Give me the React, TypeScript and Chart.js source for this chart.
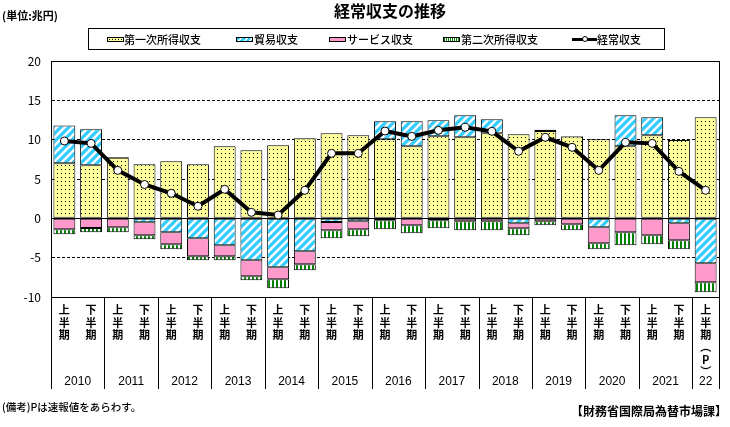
import React, { useEffect, useRef } from "react";
import { Chart, registerables } from "chart.js";

Chart.register(...registerables);

const FONT = '"Noto Sans CJK JP", "Noto Sans", sans-serif';

// ---- data (兆円) ----
const periods = [
  "2010上", "2010下", "2011上", "2011下", "2012上", "2012下", "2013上", "2013下",
  "2014上", "2014下", "2015上", "2015下", "2016上", "2016下", "2017上", "2017下",
  "2018上", "2018下", "2019上", "2019下", "2020上", "2020下", "2021上", "2021下", "2022上P",
];
const years = ["2010", "2011", "2012", "2013", "2014", "2015", "2016", "2017", "2018", "2019", "2020", "2021", "22"];
const firstHalfLabel = ["上", "半", "期"];
const secondHalfLabel = ["下", "半", "期"];
const preliminaryLabel = ["上", "半", "期", "︵", "P", "︶"];

const primaryIncome = [7.0, 6.74, 7.7, 6.86, 7.25, 6.86, 9.15, 8.64, 9.28, 10.17, 10.8, 10.55, 10.04, 9.15, 10.42, 10.3, 10.8, 10.68, 11.1, 10.4, 10.04, 9.15, 10.55, 9.96, 12.84];
const tradeBalance = [4.8, 4.57, 0.1, -0.5, -1.78, -2.54, -3.43, -5.34, -6.23, -4.19, -0.47, -0.38, 2.29, 3.18, 2.04, 2.79, 1.78, -0.64, 0.15, 0.07, -1.14, 3.94, 2.29, -0.64, -5.72];
const servicesBalance = [-1.4, -1.23, -1.14, -1.66, -1.52, -2.29, -1.4, -2.03, -1.52, -1.66, -1.06, -1.02, -0.25, -0.89, -0.25, -0.38, -0.38, -0.63, -0.38, -0.76, -2.04, -1.78, -2.16, -2.16, -2.42];
const secondaryIncome = [-0.63, -0.55, -0.64, -0.5, -0.64, -0.51, -0.51, -0.51, -1.15, -0.76, -1.01, -0.89, -1.15, -1.02, -1.02, -1.15, -1.15, -0.89, -0.51, -0.77, -0.76, -1.65, -1.14, -1.14, -1.27];
const currentAccount = [9.83, 9.53, 6.1, 4.3, 3.18, 1.53, 3.69, 0.76, 0.42, 3.56, 8.26, 8.26, 11.1, 10.42, 11.19, 11.57, 11.06, 8.52, 10.3, 9.03, 6.1, 9.66, 9.53, 5.97, 3.56];

const yTicks = [-10, -5, 0, 5, 10, 15, 20];

const tickLabels = periods.map((p) =>
  p.endsWith("P") ? preliminaryLabel : p.endsWith("上") ? firstHalfLabel : secondHalfLabel
);

function makePattern(w: number, h: number, draw: (c: CanvasRenderingContext2D) => void) {
  const cv = document.createElement("canvas");
  cv.width = w;
  cv.height = h;
  const c = cv.getContext("2d")!;
  draw(c);
  return c.createPattern(cv, "repeat")!;
}

export default function App() {
  const ref = useRef<HTMLCanvasElement | null>(null);

  useEffect(() => {
    const yellow = makePattern(4, 4, (c) => {
      c.fillStyle = "#ffff99";
      c.fillRect(0, 0, 4, 4);
      c.fillStyle = "#000";
      c.fillRect(1, 1, 1, 1);
    });
    const blue = makePattern(8, 8, (c) => {
      c.fillStyle = "#33ccff";
      c.fillRect(0, 0, 8, 8);
      c.strokeStyle = "#fff";
      c.lineWidth = 2.4;
      c.beginPath();
      c.moveTo(-2, 10); c.lineTo(10, -2);
      c.moveTo(-3, 3); c.lineTo(3, -3);
      c.moveTo(5, 11); c.lineTo(11, 5);
      c.stroke();
    });
    const green = makePattern(4, 4, (c) => {
      c.fillStyle = "#fff";
      c.fillRect(0, 0, 4, 4);
      c.fillStyle = "#008000";
      c.fillRect(0, 0, 2, 4);
    });

    const framePlugin = {
      id: "frameAndYears",
      beforeDatasetsDraw(chart: any) {
        const { ctx, chartArea, scales } = chart;
        const y0 = scales.y.getPixelForValue(0);
        ctx.save();
        ctx.strokeStyle = "#000";
        ctx.lineWidth = 1;
        ctx.beginPath();
        ctx.moveTo(chartArea.left, Math.round(y0) + 0.5);
        ctx.lineTo(chartArea.right, Math.round(y0) + 0.5);
        ctx.stroke();
        ctx.restore();
      },
      afterDraw(chart: any) {
        const { ctx, chartArea, scales } = chart;
        const xs = scales.x;
        const n = periods.length;
        const w = (chartArea.right - chartArea.left) / n;
        ctx.save();
        ctx.strokeStyle = "#000";
        ctx.lineWidth = 1;
        ctx.strokeRect(Math.round(chartArea.left) + 0.5, Math.round(chartArea.top) + 0.5,
          Math.round(chartArea.right - chartArea.left), Math.round(chartArea.bottom - chartArea.top));
        ctx.beginPath();
        const bounds: number[] = [];
        for (let i = 0; i < n; i += 2) bounds.push(i);
        bounds.push(n);
        bounds.forEach((i) => {
          const x = Math.round(chartArea.left + i * w) + 0.5;
          ctx.moveTo(x, chartArea.bottom);
          ctx.lineTo(x, 389);
        });
        ctx.stroke();
        ctx.fillStyle = "#000";
        ctx.font = 'normal 12px "Liberation Sans", "Noto Sans", sans-serif';
        ctx.textAlign = "center";
        ctx.textBaseline = "middle";
        years.forEach((yr, k) => {
          const i0 = 2 * k;
          const last = Math.min(i0 + 1, n - 1);
          const x = (xs.getPixelForValue(i0) + xs.getPixelForValue(last)) / 2;
          ctx.fillText(yr, x, 382);
        });
        ctx.restore();
      },
    };

    const chart = new Chart(ref.current!, {
      type: "bar",
      data: {
        labels: tickLabels as any,
        datasets: [
          { type: "bar", label: "第一次所得収支", data: primaryIncome, backgroundColor: yellow as any, borderColor: "#000", borderWidth: 1, borderSkipped: false, stack: "bars", order: 1, barPercentage: 0.82, categoryPercentage: 1 },
          { type: "bar", label: "貿易収支", data: tradeBalance, backgroundColor: blue as any, borderColor: "#000", borderWidth: 1, borderSkipped: false, stack: "bars", order: 1, barPercentage: 0.82, categoryPercentage: 1 },
          { type: "bar", label: "サービス収支", data: servicesBalance, backgroundColor: "#ff99cc", borderColor: "#000", borderWidth: 1, borderSkipped: false, stack: "bars", order: 1, barPercentage: 0.82, categoryPercentage: 1 },
          { type: "bar", label: "第二次所得収支", data: secondaryIncome, backgroundColor: green as any, borderColor: "#000", borderWidth: 1, borderSkipped: false, stack: "bars", order: 1, barPercentage: 0.82, categoryPercentage: 1 },
          { type: "line", label: "経常収支", data: currentAccount, borderColor: "#000", borderWidth: 4, tension: 0, pointRadius: 4, pointBackgroundColor: "#fff", pointBorderColor: "#000", pointBorderWidth: 1, stack: "ca", order: 0 } as any,
        ],
      },
      options: {
        responsive: false,
        animation: false,
        layout: { padding: { top: 61, right: 11, bottom: 0, left: 0 } },
        plugins: { legend: { display: false }, title: { display: false }, tooltip: { enabled: false } },
        scales: {
          x: {
            stacked: true,
            offset: true,
            grid: { display: false, drawTicks: false },
            border: { display: true, color: "#000" },
            ticks: {
              autoSkip: false, maxRotation: 0, minRotation: 0, color: "#000", padding: 7,
              font: { family: FONT, size: 11, weight: "bold", lineHeight: 1.12 },
            },
            afterFit: (s: any) => { s.height = 130; },
          },
          y: {
            stacked: true,
            min: yTicks[0],
            max: yTicks[yTicks.length - 1],
            afterBuildTicks: (s: any) => { s.ticks = yTicks.map((v) => ({ value: v })); },
            ticks: { color: "#000", padding: 10, font: { family: FONT, size: 12 } },
            grid: {
              drawTicks: false,
              lineWidth: 1,
              color: (ctx: any) => ([0, 20, -10].includes(ctx.tick?.value) ? "rgba(0,0,0,0)" : "#000"),
            },
            border: { display: true, color: "#000", dash: [3, 2] },
            afterFit: (s: any) => { s.width = 51; },
          },
        },
      },
      plugins: [framePlugin],
    } as any);
    return () => chart.destroy();
  }, []);

  const legendItem = (left: number, swatch: React.ReactNode, text: string, textLeft: number) => (
    <>
      <div style={{ position: "absolute", left, top: 28, height: 22, display: "flex", alignItems: "center" }}>{swatch}</div>
      <div style={{ position: "absolute", left: textLeft, top: 28, height: 22, display: "flex", alignItems: "center", fontSize: 11, fontWeight: 500, whiteSpace: "nowrap" }}>{text}</div>
    </>
  );
  const sw = (bg: string) => (
    <div style={{ width: 17, height: 5, border: "1px solid #000", boxSizing: "border-box", background: bg }} />
  );

  return (
    <div style={{ position: "fixed", left: 0, top: 0, width: 730, height: 427, background: "#fff", fontFamily: FONT, color: "#000" }}>
      <canvas ref={ref} width={730} height={427} style={{ position: "absolute", left: 0, top: 0, display: "block" }} />
      <div style={{ position: "absolute", left: 2, top: 8, fontSize: 11, fontWeight: "bold", lineHeight: "15px" }}>(単位:兆円)</div>
      <div style={{ position: "absolute", left: 290, width: 200, top: 1, fontSize: 16, fontWeight: "bold", lineHeight: "18px", textAlign: "center" }}>経常収支の推移</div>
      <div style={{ position: "absolute", left: 88, top: 28, width: 577, height: 22, border: "1px solid #000", boxSizing: "border-box" }} />
      {legendItem(107, sw("radial-gradient(circle, #000 0.7px, transparent 0.9px) 0 0/3px 3px, #ffff99"), "第一次所得収支", 124)}
      {legendItem(236, sw("repeating-linear-gradient(135deg, #33ccff 0 2.5px, #fff 2.5px 4px)"), "貿易収支", 254)}
      {legendItem(329, sw("#ff99cc"), "サービス収支", 347)}
      {legendItem(443, sw("repeating-linear-gradient(90deg, #008000 0 1px, #fff 1px 2px)"), "第二次所得収支", 461)}
      {legendItem(572, (
        <div style={{ position: "relative", width: 25, height: 7 }}>
          <div style={{ position: "absolute", left: 0, top: 2, width: 25, height: 3, background: "#000" }} />
          <div style={{ position: "absolute", left: 10, top: 0.5, width: 6, height: 6, boxSizing: "border-box", borderRadius: "50%", background: "#fff", border: "1px solid #000" }} />
        </div>
      ), "経常収支", 597)}
      <div style={{ position: "absolute", left: 2, top: 400, fontSize: 10.5, fontWeight: 500, lineHeight: "14px" }}>(備考)Pは速報値をあらわす。</div>
      <div style={{ position: "absolute", right: 3, top: 404, fontSize: 12, fontWeight: "bold", lineHeight: "14px" }}>【財務省国際局為替市場課】</div>
    </div>
  );
}
